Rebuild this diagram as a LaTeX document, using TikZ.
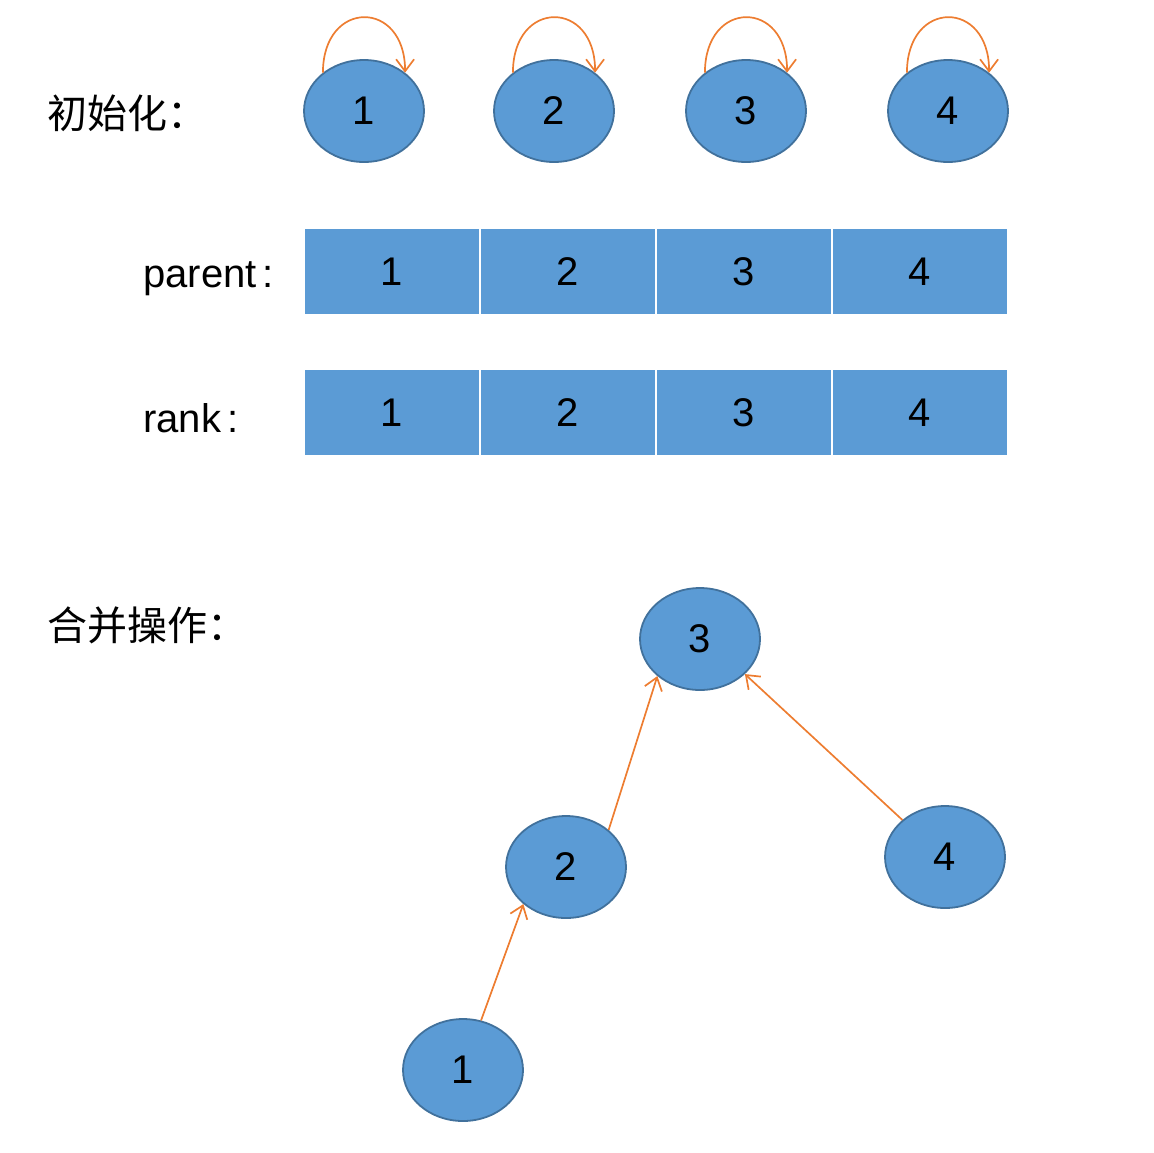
\documentclass[tikz,border=0pt]{standalone}
\usepackage{fontspec}
\setmainfont{Liberation Sans}
\newfontfamily\cjk{Noto Sans CJK SC}
\usetikzlibrary{positioning,arrows.meta,shapes.geometric}

\definecolor{nodeblue}{HTML}{5B9BD5}
\definecolor{nodeedge}{HTML}{41719C}
\definecolor{linkorange}{HTML}{ED7D31}

\begin{document}
\begin{tikzpicture}[
    x=0.5pt, y=0.5pt,
    font=\fontsize{20}{24}\selectfont,
    elem/.style={ellipse, draw=nodeedge, fill=nodeblue, line width=0.9pt,
                 minimum width=60pt, minimum height=51pt, inner sep=0pt},
    cell/.style={fill=nodeblue, minimum width=87pt, minimum height=42.5pt,
                 inner sep=0pt, outer sep=0pt},
    lbl/.style={anchor=west, inner sep=0pt},
    arr/.style={-{Straight Barb[length=6pt,width=9pt]}, linkorange,
                line width=0.85pt}
  ]

  \useasboundingbox (0,0) rectangle (1154,-1152);

  % ---- initialisation: every element is its own root ----
  \node[lbl] (initlbl) at (47,-113) {\cjk 初始化：};
  \node[elem] (t1) at (364,-111) {1};
  \node[elem] (t2) at (554,-111) {2};
  \node[elem] (t3) at (746,-111) {3};
  \node[elem] (t4) at (948,-111) {4};

  \foreach \n in {t1,t2,t3,t4}
    \draw[arr] (\n.137) to[out=90, in=90, looseness=2.3] (\n.43);

  % ---- parent array ----
  \node[lbl] (parentlbl) at (143,-279) {parent\hspace{3pt}:};
  \node[cell, anchor=north west] (p1) at (305,-229) {1};
  \node[cell, right=1pt of p1] (p2) {2};
  \node[cell, right=1pt of p2] (p3) {3};
  \node[cell, right=1pt of p3] (p4) {4};

  % ---- rank array ----
  \node[lbl] (ranklbl) at (143,-418) {rank\hspace{3pt}:};
  \node[cell, anchor=north west] (r1) at (305,-370) {1};
  \node[cell, right=1pt of r1] (r2) {2};
  \node[cell, right=1pt of r2] (r3) {3};
  \node[cell, right=1pt of r3] (r4) {4};

  % ---- union: resulting tree ----
  \node[lbl] (unionlbl) at (47,-625) {\cjk 合并操作：};
  \node[elem] (b3) at (700,-639) {3};
  \node[elem] (b2) at (566,-867) {2};
  \node[elem] (b4) at (945,-857) {4};
  \node[elem] (b1) at (463,-1070) {1};

  \draw[arr] (b1.70) -- (b2.221);
  \draw[arr] (b2.41) -- (b3.221);
  \draw[arr] (b4.139) -- (b3.322);

\end{tikzpicture}
\end{document}
